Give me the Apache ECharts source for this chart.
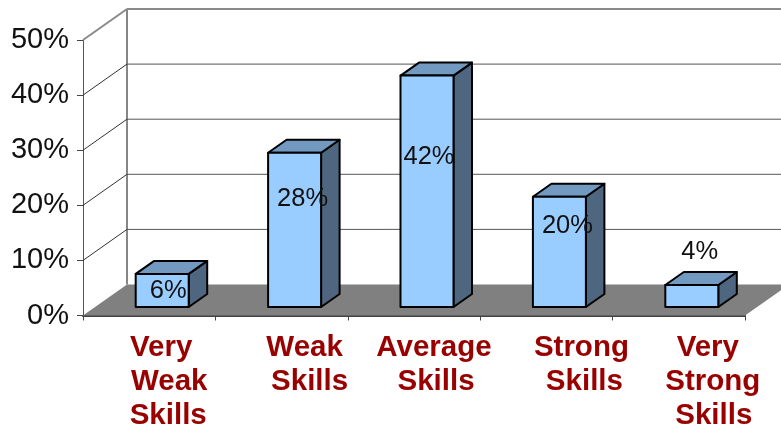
<!DOCTYPE html>
<html>
<head>
<meta charset="utf-8">
<style>html,body{margin:0;padding:0;background:#fff}#c{width:781px;height:429px}</style>
<script src="https://cdn.jsdelivr.net/npm/echarts@6/dist/echarts.min.js"></script>
</head>
<body>
<div id="c"></div>
<script>
const categories = ["Very Weak Skills", "Weak Skills", "Average Skills", "Strong Skills", "Very Strong Skills"];
const skillShares = [6, 28, 42, 20, 4];
const tickValues = [0, 10, 20, 30, 40, 50];

// Line breaks and per-line horizontal shift (px) of the category labels
const labelLines = [["Very", "Weak", "Skills"], ["Weak", "Skills"], ["Average", "Skills"], ["Strong", "Skills"], ["Very", "Strong", "Skills"]];
const labelShifts = [[12, 20, 19], [23, 28], [20, 22], [35, 38], [29, 34, 35]];
// Data label offset (px) from the top centre of each bar's front face
const valueLabelOffsets = [[6, 17], [8, 46], [2, 81], [8, 29], [8, -33]];

const DEPTH_X = 44, DEPTH_Y = -31;          // plot depth
const BAR_W = 53, BAR_DX = 13, BAR_DY = -8.5, BAR_DEPTH_X = 18.5, BAR_DEPTH_Y = -13;

const rich = {};
labelLines.forEach((lines, i) => lines.forEach((_, j) => {
  rich['s' + i + '_' + j] = {
    color: '#990000', fontFamily: 'Liberation Sans', fontWeight: 'bold', fontSize: 29.5,
    lineHeight: 34, width: 200, align: 'center', padding: [0, 0, 0, labelShifts[i][j] * 2]
  };
}));

const chart = echarts.init(document.getElementById('c'), null, { renderer: 'canvas' });
chart.setOption({
  animation: false,
  backgroundColor: '#fff',
  grid: { left: 83, right: 36, top: 40, bottom: 113.5, outerBoundsMode: 'none' },
  xAxis: {
    type: 'category', data: categories, boundaryGap: true,
    axisLine: { show: true, lineStyle: { color: '#444', width: 2 } },
    axisTick: { show: true, length: 5, alignWithLabel: false, lineStyle: { color: '#444', width: 1 } },
    axisLabel: {
      interval: 0, margin: 15, hideOverlap: false,
      formatter: (v, i) => labelLines[i].map((l, j) => '{s' + i + '_' + j + '|' + l + '}').join('\n'),
      rich
    }
  },
  yAxis: {
    type: 'value', min: 0, max: 50, interval: 10,
    axisLine: { show: true, lineStyle: { color: '#555', width: 1 } },
    axisTick: { show: true, length: 6, lineStyle: { color: '#444', width: 1 } },
    splitLine: { show: false },
    axisLabel: { formatter: '{value}%', color: '#111', fontFamily: 'Liberation Sans', fontSize: 29, margin: 14 }
  },
  series: [
    {
      type: 'custom', name: 'walls', coordinateSystem: 'cartesian2d', clip: false, silent: true, z: 1,
      data: tickValues.map(v => [0, v]),
      encode: { x: 0, y: 1 },
      renderItem(params, api) {
        const v = api.value(1);
        const band = api.size([1, 0])[0];
        const p = api.coord([0, v]);
        const xL = p[0] - band / 2;
        const xR = api.coord([categories.length - 1, v])[0] + band / 2;
        const y = p[1];
        const bx = xL + DEPTH_X, by = y + DEPTH_Y;
        const kids = [];
        if (v === 0) {
          kids.push({ type: 'polygon', shape: { points: [[xL, y], [xR, y], [xR + DEPTH_X, by], [bx, by]] },
            style: { fill: '#808080', stroke: null } });
          kids.push({ type: 'line', shape: { x1: bx, y1: by, x2: bx, y2: api.coord([0, 50])[1] + DEPTH_Y },
            style: { stroke: '#868686', lineWidth: 2 } });
        } else {
          const top = v === 50;
          kids.push({ type: 'line', shape: { x1: bx, y1: by, x2: xR + DEPTH_X, y2: by },
            style: { stroke: top ? '#8a8a8a' : '#555', lineWidth: top ? 2 : 1 } });
          kids.push({ type: 'line', shape: { x1: xL, y1: y, x2: bx, y2: by },
            style: { stroke: top ? '#8a8a8a' : '#333', lineWidth: top ? 2 : 1 } });
        }
        return { type: 'group', children: kids };
      }
    },
    {
      type: 'custom', name: 'Skills', coordinateSystem: 'cartesian2d', clip: false, z: 3,
      data: skillShares.map((v, i) => [i, v]),
      encode: { x: 0, y: 1 },
      renderItem(params, api) {
        const i = api.value(0), v = api.value(1);
        const c = api.coord([i, v]), c0 = api.coord([i, 0]);
        const x0 = c[0] + BAR_DX - BAR_W / 2, x1 = x0 + BAR_W;
        const yB = c0[1] + BAR_DY, yT = c[1] + BAR_DY;
        const dx = BAR_DEPTH_X, dy = BAR_DEPTH_Y;
        const edge = { stroke: '#000', lineWidth: 2, lineJoin: 'round' };
        const off = valueLabelOffsets[i];
        return {
          type: 'group',
          children: [
            { type: 'polygon', shape: { points: [[x1, yT], [x1 + dx, yT + dy], [x1 + dx, yB + dy], [x1, yB]] },
              style: { fill: '#4f6680', ...edge } },
            { type: 'polygon', shape: { points: [[x0, yT], [x0 + dx, yT + dy], [x1 + dx, yT + dy], [x1, yT]] },
              style: { fill: '#7299bf', ...edge } },
            { type: 'rect', shape: { x: x0, y: yT, width: BAR_W, height: yB - yT },
              style: { fill: '#99ccff', ...edge } },
            { type: 'text', z2: 10,
              style: { text: v + '%', x: (x0 + x1) / 2 + off[0], y: yT + off[1], align: 'center', verticalAlign: 'middle',
                fill: '#111', fontFamily: 'Liberation Sans', fontSize: 25.5 } }
          ]
        };
      }
    }
  ]
});
</script>
</body>
</html>
